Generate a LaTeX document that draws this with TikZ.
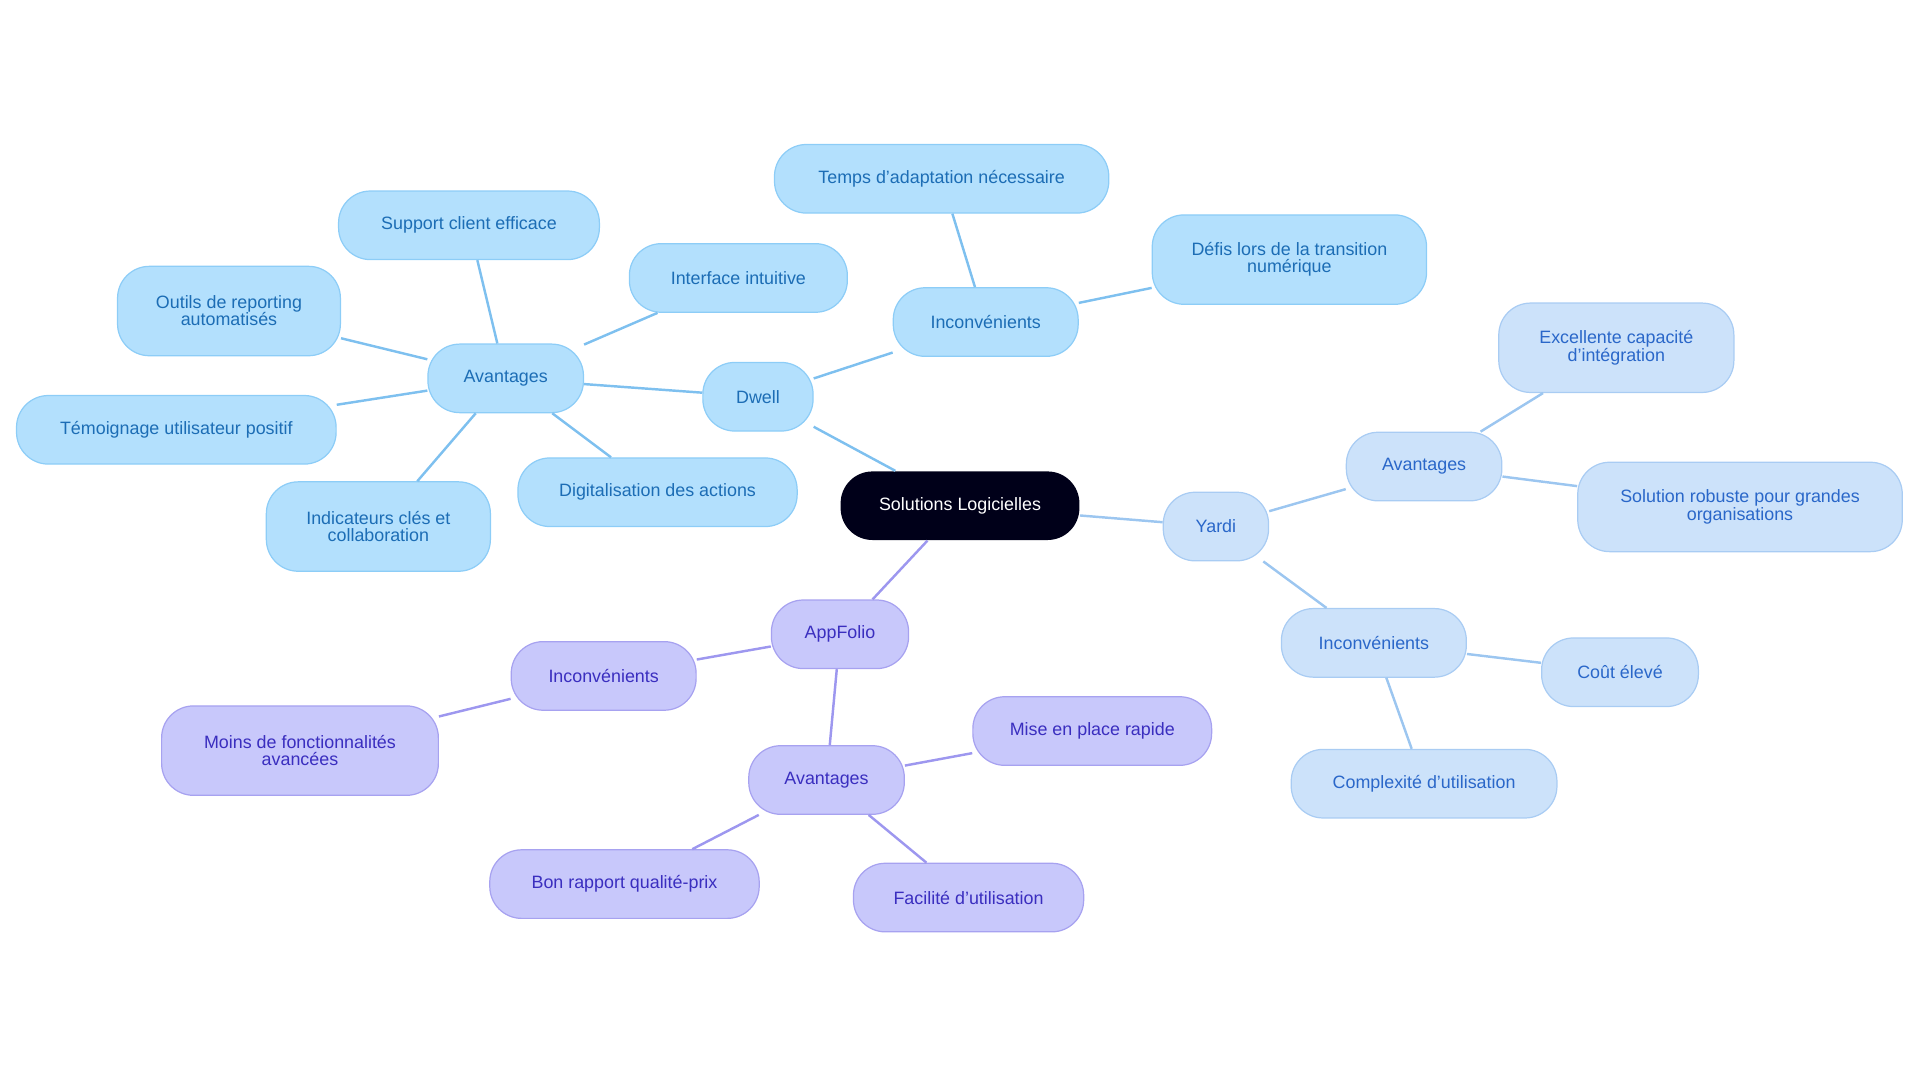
\documentclass[tikz,border=0pt]{standalone}
\usepackage{fontspec}
\setmainfont{Liberation Sans}
\definecolor{bfill}{HTML}{B3E0FD}\definecolor{bdraw}{HTML}{8DCDF7}\definecolor{btext}{HTML}{1C6DB5}\definecolor{bline}{HTML}{7EC0EF}
\definecolor{yfill}{HTML}{CCE2FA}\definecolor{ydraw}{HTML}{A9CCF3}\definecolor{ytext}{HTML}{2A67C9}\definecolor{yline}{HTML}{9CC6F0}
\definecolor{pfill}{HTML}{C8C8FB}\definecolor{pdraw}{HTML}{A7A2F0}\definecolor{ptext}{HTML}{3A2EBF}\definecolor{pline}{HTML}{9D97EF}
\begin{document}
\begin{tikzpicture}[x=0.5pt,y=-0.5pt,
 base/.style={rounded corners=13pt,minimum height=28pt,inner sep=2pt,align=center,font=\fontsize{7.3}{8}\selectfont,line width=0.5pt},
 bn/.style={base,fill=bfill,draw=bdraw,text=btext},
 yn/.style={base,fill=yfill,draw=ydraw,text=ytext},
 pn/.style={base,fill=pfill,draw=pdraw,text=ptext},
 tall/.style={minimum height=36.5pt},
 bl/.style={draw=bline,line width=1pt},
 yl/.style={draw=yline,line width=1pt},
 pl/.style={draw=pline,line width=1pt}]
\useasboundingbox (0,0) rectangle (1568,884);
\node[base,fill=black!90!blue,draw=none,text=white,minimum width=97.5pt] (root) at (784,413) {Solutions Logicielles};
\node[bn,minimum width=45pt] (dw) at (619,324) {Dwell};
\node[bn,minimum width=63.5pt] (dav) at (413,309) {Avantages};
\node[bn,minimum width=106.5pt] (sup) at (383,184) {Support client efficace};
\node[bn,tall,minimum width=91pt] (out) at (187,254) {Outils de reporting\\[-1pt]automatisés};
\node[bn,minimum width=130.5pt] (tem) at (144,351) {Témoignage utilisateur positif};
\node[bn,tall,minimum width=91.5pt] (ind) at (309,430) {Indicateurs clés et\\[-1pt]collaboration};
\node[bn,minimum width=114pt] (dig) at (537,402) {Digitalisation des actions};
\node[bn,minimum width=89pt] (int) at (603,227) {Interface intuitive};
\node[bn,minimum width=75.5pt] (dinc) at (805,263) {Inconvénients};
\node[bn,minimum width=136.5pt] (tps) at (769,146) {Temps d'adaptation nécessaire};
\node[bn,tall,minimum width=112pt] (def) at (1053,212) {Défis lors de la transition\\[-1pt]numérique};
\node[yn,minimum width=43pt] (ya) at (993,430) {Yardi};
\node[yn,minimum width=63.5pt] (yav) at (1163,381) {Avantages};
\node[yn,tall,minimum width=96pt] (exc) at (1320,284) {Excellente capacité\\[-1pt]d'intégration};
\node[yn,tall,minimum width=132.5pt] (sol) at (1421,414) {Solution robuste pour grandes\\[-1pt]organisations};
\node[yn,minimum width=75.5pt] (yinc) at (1122,525) {Inconvénients};
\node[yn,minimum width=64pt] (cou) at (1323,549) {Coût élevé};
\node[yn,minimum width=108.5pt] (cpx) at (1163,640) {Complexité d'utilisation};
\node[pn,minimum width=56pt] (ap) at (686,518) {AppFolio};
\node[pn,minimum width=75.5pt] (ainc) at (493,552) {Inconvénients};
\node[pn,tall,minimum width=113pt] (moi) at (245,613) {Moins de fonctionnalités\\[-1pt]avancées};
\node[pn,minimum width=63.5pt] (aav) at (675,637) {Avantages};
\node[pn,minimum width=97.5pt] (mis) at (892,597) {Mise en place rapide};
\node[pn,minimum width=110pt] (bon) at (510,722) {Bon rapport qualité-prix};
\node[pn,minimum width=94pt] (fac) at (791,733) {Facilité d'utilisation};
\draw[bl] (root)--(dw); \draw[bl] (dw)--(dav); \draw[bl] (dw)--(dinc);
\foreach \n in {sup,out,tem,ind,dig,int} \draw[bl] (dav)--(\n);
\draw[bl] (dinc)--(tps); \draw[bl] (dinc)--(def);
\draw[yl] (root)--(ya); \draw[yl] (ya)--(yav); \draw[yl] (ya)--(yinc);
\draw[yl] (yav)--(exc); \draw[yl] (yav)--(sol); \draw[yl] (yinc)--(cou); \draw[yl] (yinc)--(cpx);
\draw[pl] (root)--(ap); \draw[pl] (ap)--(ainc); \draw[pl] (ap)--(aav); \draw[pl] (ainc)--(moi);
\draw[pl] (aav)--(mis); \draw[pl] (aav)--(bon); \draw[pl] (aav)--(fac);
\end{tikzpicture}
\end{document}
